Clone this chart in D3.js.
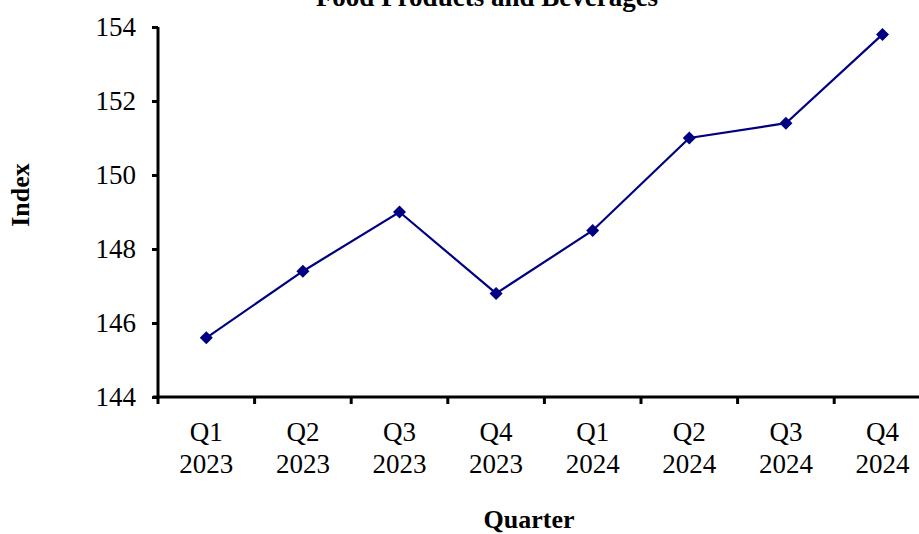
<!DOCTYPE html>
<html><head><meta charset="utf-8">
<script src="https://cdn.jsdelivr.net/npm/d3@7"></script>
<style>body{margin:0;background:#fff}svg{display:block}text{font-family:"Liberation Serif","Times New Roman",serif;fill:#000}</style>
</head><body>
<svg id="c" width="919" height="534"></svg>
<script>
const quarters = ["Q1","Q2","Q3","Q4","Q1","Q2","Q3","Q4"];
const years = ["2023","2023","2023","2023","2024","2024","2024","2024"];
const values = [145.6,147.4,149.0,146.8,148.5,151.0,151.4,153.8];
const yTicks = [144,146,148,150,152,154];
const title = "Food Products and Beverages";
const xTitle = "Quarter";
const yTitle = "Index";

(function(){
const cats = quarters.map((q,i)=>q+" "+years[i]);
const svg = d3.select("#c");
const mL = 158, mT = 27, mB = 397, step = 96.6;
const x = d3.scaleBand().domain(cats).range([mL, mL + step*cats.length]).paddingInner(0).paddingOuter(0);
const y = d3.scaleLinear().domain([144,154]).range([mB, mT]);

// title
svg.append("text").attr("x",487).attr("y",6).attr("text-anchor","middle")
  .attr("font-size",27).attr("font-weight","bold").text(title);

// y axis
const yAxis = svg.append("g").attr("transform",`translate(${mL},0)`)
  .call(d3.axisLeft(y).tickValues(yTicks).tickSize(6).tickPadding(16).tickFormat(d3.format("d")));
yAxis.attr("font-family",null);
yAxis.select(".domain").attr("stroke","#000").attr("stroke-width",3).attr("d",`M0,${mT}V${mB}`);
yAxis.selectAll(".tick line").attr("stroke","#000").attr("stroke-width",3);
yAxis.selectAll(".tick text").attr("font-size",27).attr("fill","#000");

// x axis
const xg = svg.append("g");
xg.append("line").attr("x1",mL-5).attr("x2",919).attr("y1",mB).attr("y2",mB)
  .attr("stroke","#000").attr("stroke-width",3);
xg.selectAll("line.t").data(cats).join("line").attr("class","t")
  .attr("x1",d=>x(d)).attr("x2",d=>x(d)).attr("y1",mB).attr("y2",mB+7)
  .attr("stroke","#000").attr("stroke-width",3);
const lab = xg.selectAll("text.l").data(cats).join("text").attr("class","l")
  .attr("text-anchor","middle").attr("font-size",27);
lab.append("tspan").attr("x",d=>x(d)+x.bandwidth()/2).attr("y",441).text((d,i)=>quarters[i]);
lab.append("tspan").attr("x",d=>x(d)+x.bandwidth()/2).attr("y",473).text((d,i)=>years[i]);

// axis titles
svg.append("text").attr("x",529).attr("y",528).attr("text-anchor","middle")
  .attr("font-size",26).attr("font-weight","bold").text(xTitle);
svg.append("text").attr("transform","translate(29,195) rotate(-90)").attr("text-anchor","middle")
  .attr("font-size",26).attr("font-weight","bold").text(yTitle);

// line
const line = d3.line().x((d,i)=>x(cats[i])+x.bandwidth()/2).y(d=>y(d));
svg.append("path").datum(values).attr("d",line).attr("fill","none")
  .attr("stroke","#000080").attr("stroke-width",2.2);
svg.selectAll("path.m").data(values).join("path").attr("class","m")
  .attr("d",d3.symbol(d3.symbolSquare,85)())
  .attr("transform",(d,i)=>`translate(${x(cats[i])+x.bandwidth()/2},${y(d)}) rotate(45)`)
  .attr("fill","#000080");
})();
</script>
</body></html>
